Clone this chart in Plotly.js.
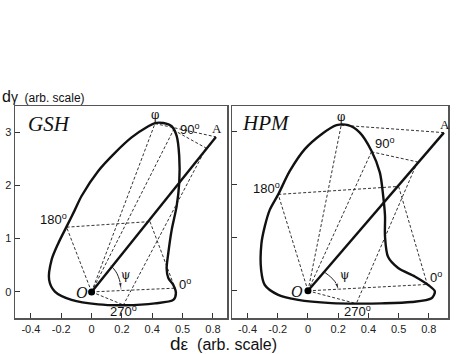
<!DOCTYPE html>
<html>
<head>
<meta charset="utf-8">
<script src="https://cdn.plot.ly/plotly-3.0.1.min.js"></script>
<style>
  html, body { margin: 0; padding: 0; background: #fff; }
  #chart { width: 472px; height: 354px; }
</style>
</head>
<body>
<div id="chart"></div>
<script>
// response envelopes (d-eps, d-gamma)
const gshX = [-0.165, -0.11, -0.066, 0.044, 0.154, 0.264, 0.374, 0.418, 0.473, 0.528, 0.561, 0.578, 0.578, 0.561, 0.528, 0.506, 0.495, 0.506, 0.539, 0.556, 0.539, 0.418, 0.22, 0.044, -0.132, -0.242, -0.28, -0.264, -0.22, -0.165];
const gshY = [1.225, 1.54, 1.8, 2.27, 2.61, 2.9, 3.11, 3.17, 3.17, 3.11, 2.93, 2.55, 2.05, 1.61, 1.16, 0.73, 0.44, 0.26, 0.13, -0.025, -0.15, -0.215, -0.25, -0.235, -0.15, 0.006, 0.225, 0.6, 0.91, 1.225];

const hpmX = [-0.197, -0.12, -0.021, 0.09, 0.189, 0.266, 0.343, 0.42, 0.476, 0.498, 0.51, 0.51, 0.53, 0.597, 0.707, 0.796, 0.84, 0.818, 0.685, 0.487, 0.332, 0.156, -0.065, -0.197, -0.286, -0.31, -0.308, -0.286, -0.253, -0.197];
const hpmY = [1.81, 2.25, 2.66, 2.94, 3.11, 3.11, 2.97, 2.63, 2.22, 1.78, 1.41, 1.02, 0.64, 0.43, 0.27, 0.11, -0.01, -0.14, -0.21, -0.235, -0.24, -0.23, -0.17, -0.075, 0.11, 0.39, 0.89, 1.21, 1.52, 1.81];

// construction points: O, 0deg, 90deg, 180deg, 270deg, phi, A, B, C
const pointNames = ['O', 'P0', 'P90', 'P180', 'P270', 'Pphi', 'A', 'B', 'C'];
const gshPtX = [0, 0.55, 0.54, -0.165, 0.21, 0.418, 0.82, 0.755, 0.385];
const gshPtY = [0, 0.07, 3.04, 1.215, -0.245, 3.16, 2.91, 2.70, 1.32];
const hpmPtX = [0, 0.79, 0.42, -0.197, 0.32, 0.22, 0.90, 0.725, 0.60];
const hpmPtY = [0, 0.12, 2.61, 1.81, -0.24, 3.11, 2.97, 2.42, 1.96];

const dashPairs = [['O','Pphi'], ['O','P90'], ['O','P180'], ['O','P270'], ['O','P0'],
                   ['P180','C'], ['C','P0'], ['P90','B'], ['B','P270'], ['Pphi','A']];

// psi arcs
const gshArcX = [0.128, 0.158, 0.176, 0.189, 0.194];
const gshArcY = [0.49, 0.39, 0.29, 0.17, 0.05];
const hpmArcX = [0.11, 0.15, 0.178, 0.194, 0.2];
const hpmArcY = [0.35, 0.26, 0.175, 0.09, 0.02];

// point labels
const degText = ['180<sup>o</sup>', '90<sup>o</sup>', '0<sup>o</sup>', '270<sup>o</sup>'];
const gshDegX = [-0.25, 0.65, 0.615, 0.21];
const gshDegY = [1.37, 3.05, 0.14, -0.36];
const hpmDegX = [-0.275, 0.51, 0.845, 0.33];
const hpmDegY = [1.93, 2.77, 0.26, -0.38];

const xTickVals = [-0.4, -0.2, 0, 0.2, 0.4, 0.6, 0.8];
const xTickText = ['-0.4', '-0.2', '0', '0.2', '0.4', '0.5', '0.8'];
const yTickVals = [0, 1, 2, 3];

const sans = 'Liberation Sans, Arial, sans-serif';
const serif = 'Liberation Serif, Times New Roman, serif';

function pt(xs, ys, name) {
    const i = pointNames.indexOf(name);
    return [xs[i], ys[i]];
}

function panelTraces(lx, ly, px, py, arcX, arcY, xa, ya) {
    let dx = [], dy = [];
    dashPairs.forEach(p => {
        const a = pt(px, py, p[0]), b = pt(px, py, p[1]);
        dx.push(a[0], b[0], null);
        dy.push(a[1], b[1], null);
    });
    const o = pt(px, py, 'O'), A = pt(px, py, 'A');
    return [
        { x: dx, y: dy, xaxis: xa, yaxis: ya, mode: 'lines', hoverinfo: 'skip',
          line: { color: '#333', width: 1, dash: '3px,2px' } },
        { x: lx, y: ly, xaxis: xa, yaxis: ya, mode: 'lines', hoverinfo: 'skip',
          line: { color: '#111', width: 2.4, shape: 'spline', smoothing: 0.8 } },
        { x: [o[0], A[0]], y: [o[1], A[1]], xaxis: xa, yaxis: ya, mode: 'lines',
          line: { color: '#111', width: 2.4 } },
        { x: arcX, y: arcY, xaxis: xa, yaxis: ya, mode: 'lines+markers',
          line: { color: '#222', width: 1, shape: 'spline' },
          marker: { symbol: 'arrow', angleref: 'previous', size: arcX.map((v, i) => i === arcX.length - 1 ? 7 : 0), color: '#222' } },
        { x: [o[0]], y: [o[1]], xaxis: xa, yaxis: ya, mode: 'markers',
          marker: { color: '#000', size: 7 } }
    ];
}

const data = [].concat(
    panelTraces(gshX, gshY, gshPtX, gshPtY, gshArcX, gshArcY, 'x', 'y'),
    panelTraces(hpmX, hpmY, hpmPtX, hpmPtY, hpmArcX, hpmArcY, 'x2', 'y2')
);

function panelLabels(xa, ya, degX, degY, px, py, name, nameX, oX, psiX, psiY) {
    let ann = [];
    degText.forEach((t, i) => {
        ann.push({ xref: xa, yref: ya, x: degX[i], y: degY[i], text: t, showarrow: false,
                   font: { family: sans, size: 13, color: '#111' } });
    });
    const phi = pt(px, py, 'Pphi'), A = pt(px, py, 'A');
    ann.push({ xref: xa, yref: ya, x: phi[0], y: phi[1] + 0.16, text: 'φ', showarrow: false,
               font: { family: 'DejaVu Serif, serif', size: 12, color: '#111' } });
    ann.push({ xref: xa, yref: ya, x: A[0] + 0.01, y: A[1] + 0.15, text: 'A', showarrow: false,
               font: { family: serif, size: 13, color: '#111' } });
    ann.push({ xref: xa, yref: ya, x: nameX, y: 3.15, text: '<i>' + name + '</i>', showarrow: false,
               xanchor: 'left', font: { family: serif, size: 21, color: '#111' } });
    ann.push({ xref: xa, yref: ya, x: oX, y: -0.02, text: '<i>O</i>', showarrow: false,
               font: { family: serif, size: 16, color: '#111' } });
    ann.push({ xref: xa, yref: ya, x: psiX, y: psiY, text: 'ψ', showarrow: false,
               font: { family: 'DejaVu Serif, serif', size: 12, color: '#111' } });
    return ann;
}

const axisBase = {
    showgrid: false, zeroline: false, showline: true, mirror: true,
    linecolor: '#555', linewidth: 1.5, ticks: 'inside', ticklen: 5, tickwidth: 1, tickcolor: '#333',
    tickfont: { family: sans, size: 11, color: '#222' }
};

const layout = {
    width: 472, height: 354,
    margin: { l: 0, r: 0, t: 0, b: 0 },
    paper_bgcolor: '#fff', plot_bgcolor: '#fff',
    showlegend: false,
    xaxis: Object.assign({}, axisBase, { domain: [15 / 472, 227 / 472], range: [-0.505, 0.893],
        tickvals: xTickVals, ticktext: xTickText, anchor: 'y' }),
    yaxis: Object.assign({}, axisBase, { domain: [36 / 354, 248 / 354], range: [-0.49, 3.49],
        tickvals: yTickVals, anchor: 'x' }),
    xaxis2: Object.assign({}, axisBase, { domain: [232 / 472, 448 / 472], range: [-0.503, 0.927],
        tickvals: xTickVals, ticktext: xTickText, anchor: 'y2' }),
    yaxis2: Object.assign({}, axisBase, { domain: [36 / 354, 248 / 354], range: [-0.51, 3.47],
        tickvals: yTickVals, showticklabels: false, anchor: 'x2' }),
    annotations: [].concat(
        panelLabels('x', 'y', gshDegX, gshDegY, gshPtX, gshPtY, 'GSH', -0.43, -0.06, 0.225, 0.31),
        panelLabels('x2', 'y2', hpmDegX, hpmDegY, hpmPtX, hpmPtY, 'HPM', -0.45, -0.075, 0.245, 0.29),
        [
            { xref: 'paper', yref: 'paper', x: 0, y: (354 - 96) / 354, xanchor: 'left', yanchor: 'middle',
              showarrow: false,
              text: '<span style="font-size:16px">d</span><span style="font-size:14px">γ</span>  (arb. scale)',
              font: { family: sans, size: 12, color: '#111' } },
            { xref: 'paper', yref: 'paper', x: 168 / 472, y: (354 - 343) / 354, xanchor: 'left', yanchor: 'middle',
              showarrow: false,
              text: '<span style="font-size:19px">d</span><span style="font-size:17px">ε</span>  (arb. scale)',
              font: { family: sans, size: 16, color: '#111' } }
        ]
    )
};

Plotly.newPlot('chart', data, layout, { staticPlot: true });
</script>
</body>
</html>
